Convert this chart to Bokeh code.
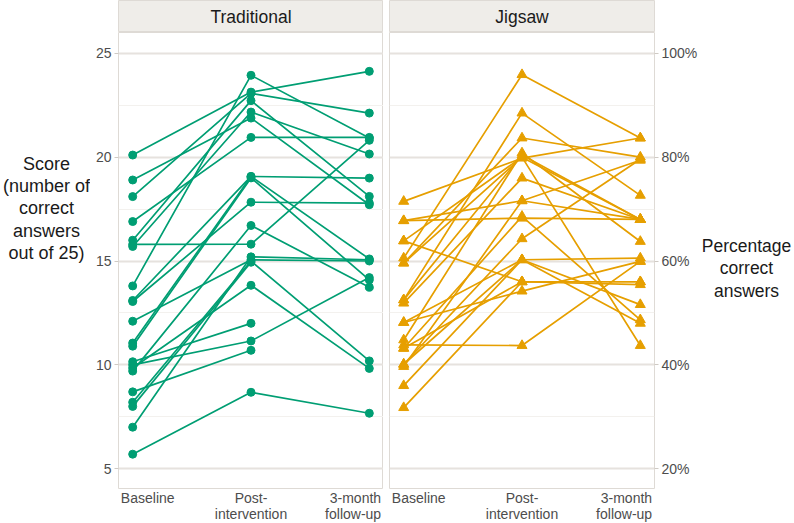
import numpy as np
from bokeh.plotting import figure
from bokeh.layouts import row, column
from bokeh.models import FixedTicker, Range1d
from bokeh.core.properties import value
from bokeh.embed import file_html
from bokeh.resources import INLINE

# ---- data -------------------------------------------------------------
timepoints = ["Baseline", "Post-\nintervention", "3-month\nfollow-up"]
groups = ["Traditional", "Jigsaw"]
score_title = "Score\n(number of\ncorrect\nanswers\nout of 25)"
pct_title = "Percentage\ncorrect\nanswers"
max_score = 25
score_ticks = [5, 10, 15, 20, 25]
score_minor = [7.5, 12.5, 17.5, 22.5]

nan = np.nan

# Traditional teaching: one entry per student
trad_baseline = [20.1, 18.9, 18.1, 16.9, 16.0, 15.8, 15.7, 13.8, 13.1, 13.05, 12.1,
                 11.05, 10.9, 10.15, 10.0, 9.85, 9.7, 8.7, 8.2, 8.0, 7.0, 5.7]
trad_post = [23.13, 21.88, 23.07, 20.95, 22.72, 15.81, 22.17, 23.94, 19.07, 17.83, 15.06,
             19.07, 19.0, 12.0, 11.15, 13.83, 16.71, 10.7, 15.0, 14.94, 15.2, 8.68]
trad_followup = [24.13, 17.71, 22.12, 20.95, 18.11, 20.81, 20.15, 20.92, 18.99, 17.79, 15.0,
                 15.1, 14.09, nan, 14.2, 9.83, 13.74, nan, 10.19, nan, 15.06, 7.67]

# Jigsaw classroom: one entry per student
jig_baseline = [17.87, 16.94, 16.94, 15.97, 15.14, 14.9, 13.13, 13.13, 12.97, 12.04, 12.04,
                11.2, 10.96, 10.8, 10.03, 10.03, 9.92, 9.0, 7.94, 14.9, 15.97, 10.8]
jig_post = [19.95, 17.06, 17.9, 14.0, 23.97, 20.92, 22.12, 20.1, 18.99, 15.06, 13.55,
            20.2, 10.93, 17.15, 16.07, 15.06, 17.9, 15.06, 14.0, 20.0, 20.0, 14.0]
jig_followup = [20.92, 17.0, 19.85, 14.0, 20.92, 20.0, 18.16, 17.0, 17.0, 15.14, 14.98,
                15.94, 14.98, 12.17, 19.9, 12.9, 17.0, 12.0, 13.86, 17.0, 10.93, 14.0]

# ---- styling ------------------------------------------------------------
FONT = "Liberation Sans"
GREEN = "#009E73"
ORANGE = "#E69F00"
TICK_TEXT = "#4D4D4D"
TITLE_TEXT = "#1A1A1A"
GRID_MAJOR = "#E6E2DE"
GRID_MINOR = "#F3F1EE"
BORDER = "#DEDAD5"
STRIP_FILL = "#EFEDE9"

FRAME_W, FRAME_H, STRIP_H, BOTTOM_H = 265, 457, 32, 34
TITLE_L_W, AXIS_L_W, GAP, AXIS_R_W, TITLE_R_W = 90, 28, 6, 46, 94
TOTAL_H = STRIP_H + FRAME_H + BOTTOM_H
X_RANGE = (0.88, 3.12)
Y_RANGE = (4.0, 26.0)
# category label anchoring: first left-justified, middle centred, last right-justified
label_align = ["left", "center", "right"]
label_shift = [-0.1, 0.0, 0.1]


def borders(side):
    return dict(min_border_top=0, min_border_bottom=0,
                min_border_left=AXIS_L_W if side == "left" else GAP,
                min_border_right=0 if side == "left" else AXIS_R_W)


def panel(baseline, post, followup, color, marker, msize, side, xr):
    yloc = "left" if side == "left" else "right"
    p = figure(frame_width=FRAME_W, frame_height=FRAME_H,
               x_range=xr, y_range=Range1d(*Y_RANGE),
               y_axis_location=yloc, x_axis_location=None, toolbar_location=None,
               output_backend="svg", background_fill_color="white",
               border_fill_color="white", outline_line_color=BORDER,
               outline_line_width=1, **borders(side))

    xs, ys, px, py = [], [], [], []
    for vals in zip(baseline, post, followup):
        lx = [i + 1 for i, v in enumerate(vals) if not np.isnan(v)]
        ly = [v for v in vals if not np.isnan(v)]
        xs.append(lx)
        ys.append(ly)
        px.extend(lx)
        py.extend(ly)

    p.multi_line(xs, ys, line_color=color, line_width=1.7)
    p.scatter(px, py, marker=marker, size=msize, fill_color=color, line_color=color)

    ticker = FixedTicker(ticks=score_ticks, minor_ticks=score_minor)
    p.ygrid.ticker = ticker
    p.ygrid.grid_line_color = GRID_MAJOR
    p.ygrid.grid_line_width = 1.8
    p.ygrid.minor_grid_line_color = GRID_MINOR
    p.ygrid.minor_grid_line_width = 1
    p.xgrid.grid_line_color = None

    ya = p.yaxis[0]
    ya.ticker = ticker
    ya.axis_line_color = None
    ya.minor_tick_line_color = None
    ya.major_tick_in = 0
    ya.major_tick_out = 4
    ya.major_tick_line_color = "#CFCAC4"
    ya.major_label_text_font = FONT
    ya.major_label_text_font_size = "14px"
    ya.major_label_text_color = TICK_TEXT
    ya.major_label_standoff = 3
    if side == "right":
        ya.major_label_overrides = {t: f"{round(t / max_score * 100)}%" for t in score_ticks}
    return p


def strip(label, side):
    s = figure(frame_width=FRAME_W, frame_height=STRIP_H,
               x_range=Range1d(0, 1), y_range=Range1d(0, 1),
               x_axis_type=None, y_axis_type=None, toolbar_location=None,
               output_backend="svg", background_fill_color=STRIP_FILL,
               border_fill_color="white", outline_line_color=BORDER, **borders(side))
    s.text(x=[0.5], y=[0.5], text=[label], text_font=value(FONT),
           text_font_size="17.5px", text_align="center", text_baseline="middle",
           text_color=TITLE_TEXT)
    return s


def category_labels(side, xr):
    b = figure(frame_width=FRAME_W, frame_height=BOTTOM_H,
               x_range=xr, y_range=Range1d(0, BOTTOM_H),
               x_axis_type=None, y_axis_type=None, toolbar_location=None,
               output_backend="svg", background_fill_color="white",
               border_fill_color="white", outline_line_color=None, **borders(side))
    for i, lab in enumerate(timepoints):
        b.text(x=[i + 1 + label_shift[i]], y=[BOTTOM_H], text=[lab],
               text_align=label_align[i], text_baseline="top",
               text_font=value(FONT), text_font_size="14px",
               text_color=TICK_TEXT, text_line_height=1.04)
    return b


def side_title(label, width, cx, cy, size):
    t = figure(width=width, height=TOTAL_H,
               x_range=Range1d(0, width), y_range=Range1d(0, TOTAL_H),
               x_axis_type=None, y_axis_type=None, toolbar_location=None,
               output_backend="svg", outline_line_color=None,
               background_fill_color="white", border_fill_color="white",
               min_border=0)
    t.text(x=[cx], y=[cy], text=[label], text_font=value(FONT),
           text_font_size=size, text_align="center", text_baseline="middle",
           text_color=TITLE_TEXT, text_line_height=1.12)
    return t


xr_left = Range1d(*X_RANGE)
xr_right = Range1d(*X_RANGE)

left = panel(trad_baseline, trad_post, trad_followup, GREEN, "circle", 8, "left", xr_left)
right = panel(jig_baseline, jig_post, jig_followup, ORANGE, "triangle", 10, "right", xr_right)

left_col = column(strip(groups[0], "left"), left, category_labels("left", xr_left), spacing=0)
right_col = column(strip(groups[1], "right"), right, category_labels("right", xr_right), spacing=0)

layout = row(side_title(score_title, TITLE_L_W, 46, TOTAL_H - 208, "18px"),
             left_col, right_col,
             side_title(pct_title, TITLE_R_W, 46, TOTAL_H - 268, "17.5px"),
             spacing=0)

open("out.html", "w").write(file_html(layout, INLINE))
